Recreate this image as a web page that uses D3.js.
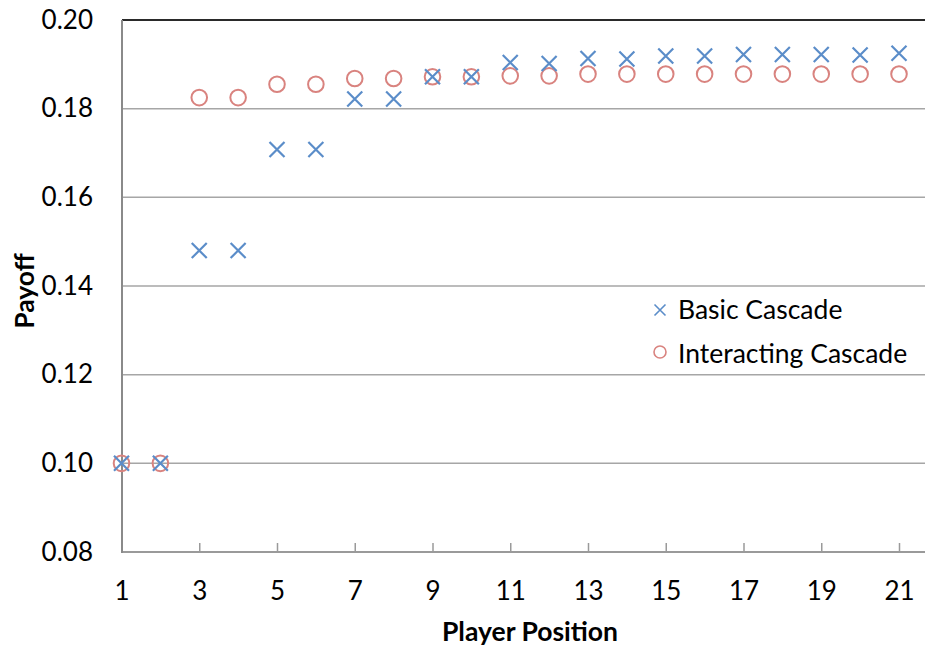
<!DOCTYPE html>
<html><head><meta charset="utf-8">
<script src="https://cdn.jsdelivr.net/npm/d3@7"></script>
<style>body{margin:0;background:#fff}svg{display:block}text{font-family:Lato,"Open Sans",sans-serif}</style>
</head><body><div id="chart"></div>
<script>
const positions = d3.range(1, 22);
const basicCascade = [0.100,0.100,0.148,0.148,0.1708,0.1708,0.1822,0.1822,0.1872,0.1872,0.1904,0.1902,0.1913,0.1912,0.1919,0.1919,0.1922,0.1922,0.1922,0.1921,0.1925];
const interactingCascade = [0.100,0.100,0.1825,0.1825,0.1855,0.1855,0.1868,0.1868,0.1872,0.1872,0.1874,0.1874,0.1878,0.1878,0.1878,0.1878,0.1878,0.1878,0.1878,0.1878,0.1878];
const yTicks = [0.08,0.10,0.12,0.14,0.16,0.18,0.20];
const xTicks = [1,3,5,7,9,11,13,15,17,19,21];
const seriesNames = ["Basic Cascade","Interacting Cascade"];

const W=925,H=646;
const svg=d3.select("#chart").append("svg").attr("width",W).attr("height",H);
const x=d3.scaleLinear().domain([1,21]).range([121.5,899]);
const y=d3.scaleLinear().domain([0.08,0.20]).range([552,20]);
const blue="#5B8DC9", red="#D9837F";
const FS=26;

// gridlines
svg.append("g").selectAll("line").data(yTicks.filter(v=>v>0.08)).join("line")
  .attr("x1",122).attr("x2",W).attr("y1",d=>y(d)).attr("y2",d=>y(d))
  .attr("stroke",d=>d===0.20?"#2a2a2a":"#a6a6a6").attr("stroke-width",d=>d===0.20?2:1.5);

// x axis
const xAxis=d3.axisBottom(x).tickValues(xTicks).tickSize(0).tickPadding(0).tickFormat(d3.format("d"));
const gx=svg.append("g").attr("transform","translate(0,552)").call(xAxis);
gx.select(".domain").remove();
gx.selectAll(".tick line").remove();
gx.selectAll("text").attr("y",48).attr("dy",0).attr("font-size",FS).attr("fill","#000").attr("font-family","Lato,sans-serif");
gx.append("line").attr("x1",122).attr("x2",W).attr("y1",0).attr("y2",0).attr("stroke","#9a9a9a").attr("stroke-width",2);
gx.selectAll(".tick").append("line").attr("y1",0).attr("y2",-9).attr("stroke","#9a9a9a").attr("stroke-width",1.5);

// y axis
const yAxis=d3.axisLeft(y).tickValues(yTicks).tickSize(0).tickPadding(0).tickFormat(d3.format(".2f"));
const gy=svg.append("g").attr("transform","translate(93,0)").call(yAxis);
gy.select(".domain").remove();
gy.selectAll("text").attr("x",0).attr("font-size",FS).attr("fill","#000").attr("font-family","Lato,sans-serif");
svg.append("line").attr("x1",122).attr("x2",122).attr("y1",20).attr("y2",553).attr("stroke","#8a8a8a").attr("stroke-width",2);

// markers
const cross=(g,cx,cy,s,col,sw)=>{
  g.append("path").attr("d",`M${cx-s},${cy-s}L${cx+s},${cy+s}M${cx-s},${cy+s}L${cx+s},${cy-s}`)
   .attr("stroke",col).attr("stroke-width",sw).attr("fill","none");
};
const gi=svg.append("g");
positions.forEach((p,i)=>{
  gi.append("circle").attr("cx",x(p)).attr("cy",y(interactingCascade[i])).attr("r",7.8)
    .attr("fill","none").attr("stroke",red).attr("stroke-width",2);
});
const gb=svg.append("g");
positions.forEach((p,i)=>cross(gb,x(p),y(basicCascade[i]),7.5,blue,2.2));

// legend
const lg=svg.append("g");
cross(lg,660,310,5.5,blue,1.6);
lg.append("circle").attr("cx",660).attr("cy",352).attr("r",6).attr("fill","none").attr("stroke",red).attr("stroke-width",1.6);
lg.selectAll("text").data(seriesNames).join("text").attr("x",678).attr("y",(d,i)=>319+i*44)
  .attr("font-size",26.5).attr("fill","#000").text(d=>d);

// axis titles
svg.append("text").attr("x",530).attr("y",641).attr("text-anchor","middle").attr("font-weight","bold").attr("font-size",26.5).text("Player Position");
svg.append("text").attr("transform","translate(34,291) rotate(-90)").attr("text-anchor","middle").attr("font-weight","bold").attr("font-size",26.5).text("Payoff");
</script></body></html>
